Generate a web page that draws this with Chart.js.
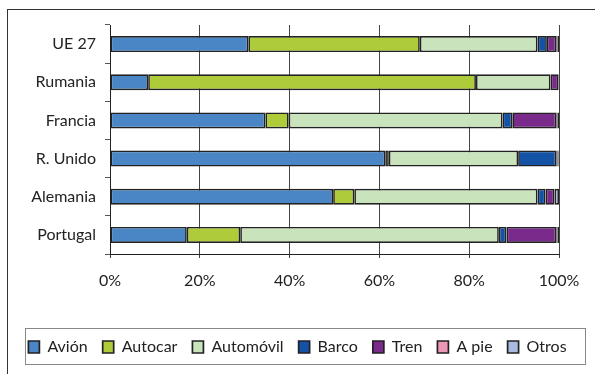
<!DOCTYPE html>
<html>
<head>
<meta charset="utf-8">
<script src="https://cdn.jsdelivr.net/npm/chart.js@4/dist/chart.umd.min.js"></script>
<style>
html,body{margin:0;padding:0;background:#fff;}
#wrap{width:595px;height:374px;position:relative;}
</style>
</head>
<body>
<div id="wrap"><canvas id="c" width="595" height="374"></canvas></div>
<script>
const categories = ["UE 27", "Rumania", "Francia", "R. Unido", "Alemania", "Portugal"];
const seriesNames = ["Avión", "Autocar", "Automóvil", "Barco", "Tren", "A pie", "Otros"];
const avion     = [30.8,  8.5, 34.6, 61.3, 49.7, 17.1];
const autocar   = [38.2, 73.0,  5.2,  0.8,  4.7, 11.9];
const automovil = [26.2, 16.6, 47.6, 28.8, 40.8, 57.6];
const barco     = [ 2.1,  0.0,  2.2,  8.5,  1.8,  1.7];
const tren      = [ 2.1,  1.8,  9.8,  0.3,  2.0, 11.1];
const apie      = [ 0.3,  0.1,  0.3,  0.2,  0.0,  0.3];
const otros     = [ 0.3,  0.0,  0.3,  0.1,  1.0,  0.3];
const xTicks = [0, 20, 40, 60, 80, 100];

const colors = ["#4A86C6", "#AECC3A", "#C9E4BC", "#1452A6", "#7A2A8A", "#EE96B6", "#A9B9DF"];
const values = [avion, autocar, automovil, barco, tren, apie, otros];

const FONT = "Lato, 'Open Sans', sans-serif";

const framePlugin = {
  id: 'frame',
  afterDraw(chart) {
    const ctx = chart.ctx;
    ctx.save();
    ctx.strokeStyle = '#333';
    ctx.lineWidth = 1;
    ctx.strokeRect(7.5, 9.5, 700, 500);
    ctx.strokeStyle = '#888';
    ctx.strokeRect(25.5, 328.5, 560, 36);
    ctx.restore();
  }
};

new Chart(document.getElementById('c'), {
  type: 'bar',
  data: {
    labels: categories,
    datasets: seriesNames.map((n, i) => ({
      label: n,
      data: values[i],
      backgroundColor: colors[i],
      borderColor: '#222',
      borderWidth: 1.7,
      borderSkipped: false,
      barPercentage: 0.42,
      categoryPercentage: 1.0
    }))
  },
  options: {
    indexAxis: 'y',
    responsive: false,
    animation: false,
    devicePixelRatio: 1,
    layout: { padding: { left: 0, top: 25, right: 0, bottom: 9 } },
    plugins: {
      legend: {
        position: 'bottom',
        labels: {
          font: { family: FONT, size: 16 },
          color: '#222',
          boxWidth: 11,
          boxHeight: 12,
          padding: 15
        }
      },
      tooltip: { enabled: false }
    },
    scales: {
      x: {
        stacked: true,
        min: 0,
        max: 100,
        afterBuildTicks(scale) { scale.ticks = xTicks.map(v => ({ value: v })); },
        afterFit(scale) { scale.height = 70; },
        ticks: {
          font: { family: FONT, size: 16 },
          color: '#222',
          padding: 13,
          callback: v => v + '%'
        },
        grid: {
          color: '#444',
          lineWidth: 1,
          tickLength: 4,
          drawOnChartArea: true
        },
        border: { display: true, color: '#222', width: 1 }
      },
      y: {
        stacked: true,
        afterFit(scale) { scale.width = 110; },
        ticks: {
          font: { family: FONT, size: 16 },
          color: '#222',
          padding: 9
        },
        grid: {
          offset: true,
          drawOnChartArea: false,
          color: '#555',
          tickLength: 5
        },
        border: { display: true, color: '#222', width: 1 }
      },
      yRight: {
        position: 'right',
        display: true,
        afterFit(scale) { scale.width = 36; },
        ticks: { display: false },
        grid: { display: false },
        border: { display: false }
      }
    }
  },
  plugins: [framePlugin]
});
</script>
</body>
</html>
